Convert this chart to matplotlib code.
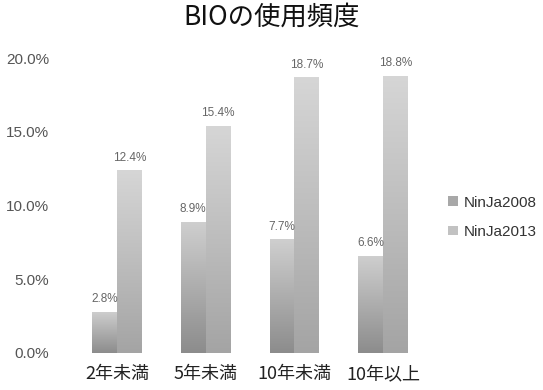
import numpy as np
import matplotlib
matplotlib.use("Agg")
import matplotlib.pyplot as plt
from matplotlib.colors import LinearSegmentedColormap

plt.rcParams['font.family'] = ['Noto Sans CJK JP', 'DejaVu Sans']

categories = ["2年未満", "5年未満", "10年未満", "10年以上"]
ninja2008 = [2.8, 8.9, 7.7, 6.6]
ninja2013 = [12.4, 15.4, 18.7, 18.8]
series_names = ["NinJa2008", "NinJa2013"]
yticks = [0, 5, 10, 15, 20]

fig = plt.figure(figsize=(5.43, 3.90), dpi=100)
ax = fig.add_axes([0.1335, 0.095, 0.654, 0.756])

# gray gradients, darker toward the bottom of each bar
cmaps = [
    LinearSegmentedColormap.from_list("g08", ["#8c8c8c", "#cfcfcf"]),
    LinearSegmentedColormap.from_list("g13", ["#a4a4a4", "#d6d6d6"]),
]
legend_colors = ["#a8a8a8", "#c2c2c2"]

x = np.arange(len(categories))
w = 0.28
grad = np.linspace(0, 1, 256).reshape(-1, 1)

for i, (vals, name) in enumerate(zip([ninja2008, ninja2013], series_names)):
    offs = (i - 0.5) * w
    bars = ax.bar(x + offs, vals, w, color=legend_colors[i], label=name,
                  edgecolor="none", zorder=1)
    for b, v in zip(bars, vals):
        x0, y0 = b.get_x(), b.get_y()
        im = ax.imshow(grad, cmap=cmaps[i], origin="lower", aspect="auto",
                       extent=[x0, x0 + b.get_width(), y0, y0 + b.get_height()],
                       zorder=2)
        im.set_clip_path(b)
        ax.text(b.get_x() + b.get_width() / 2, v + 0.45, f"{v:.1f}%",
                ha="center", va="bottom", fontsize=8.5, color="#666666",
                family="Liberation Sans", zorder=3)

ax.set_xlim(-0.5, len(categories) - 0.5)
ax.set_ylim(0, 20)
ax.set_yticks(yticks)
ax.set_yticklabels([f"{t:.1f}%" for t in yticks], family="Liberation Sans",
                   fontsize=11, color="#555555")
ax.set_xticks(x)
ax.set_xticklabels(categories, fontsize=13, color="#222222")
ax.tick_params(length=0, axis="y", pad=17)
ax.tick_params(length=0, axis="x", pad=9)
for s in ax.spines.values():
    s.set_visible(False)

fig.suptitle("BIOの使用頻度", x=0.5, y=0.99, fontsize=19, color="#111111")

leg = ax.legend(loc="center left", bbox_to_anchor=(1.02, 0.46), frameon=False,
                handlelength=0.6, handleheight=0.6, handletextpad=0.4,
                labelspacing=1.0, prop={"family": "Liberation Sans", "size": 11})
for t in leg.get_texts():
    t.set_color("#333333")

fig.savefig("out.png", dpi=100)
